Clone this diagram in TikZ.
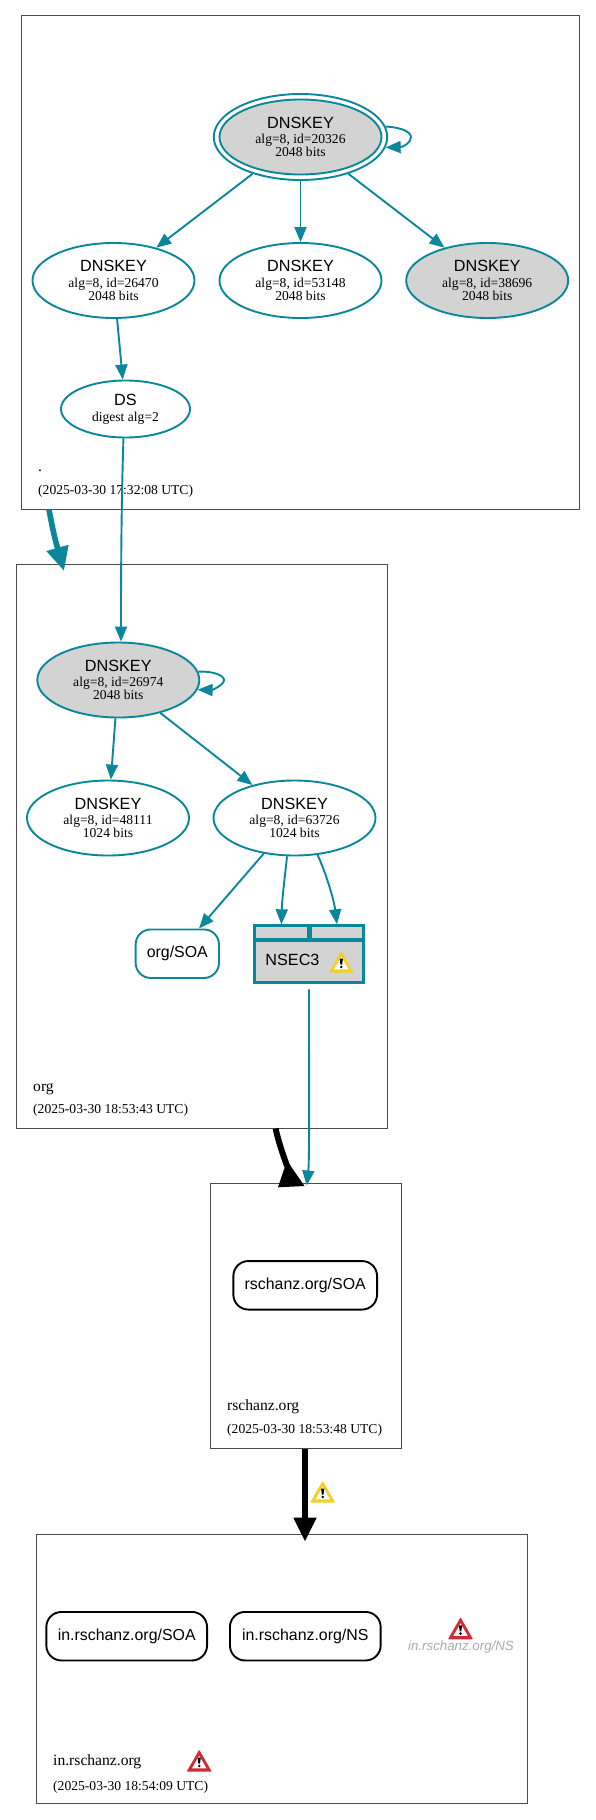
\documentclass[tikz,border=0pt]{standalone}
\usepackage{fontspec}
\setmainfont{Liberation Serif}
\setsansfont{Liberation Sans}
\usetikzlibrary{arrows.meta}
\usetikzlibrary{shapes.geometric}
\definecolor{teal}{RGB}{10,135,154}
\definecolor{keygrey}{RGB}{211,211,211}
\definecolor{warnyellow}{RGB}{243,208,40}
\definecolor{warnred}{RGB}{208,44,50}
\newcommand{\rrfont}{\sffamily\fontsize{15.9}{18}\selectfont}
\newcommand{\keyfont}{\sffamily\fontsize{16.2}{18}\selectfont}
\newcommand{\zonefont}{\fontsize{15.6}{18}\selectfont}
\newcommand{\stampfont}{\fontsize{13.6}{13}\selectfont}
\newcommand{\warnsign}[3]{
    \begin{scope}[shift={(#1,#2)}]
        \fill[#3, rounded corners=0.8pt] (-12.6,11) -- (0,-11) -- (12.6,11) -- cycle;
        \fill[white] (-7.2,7.6) -- (0,-5) -- (7.2,7.6) -- cycle;
        \fill[black] (-1.6,-3) -- (1.6,-3) -- (0.8,3) -- (-0.8,3) -- cycle;
        \fill[black] (0,5.3) circle (1.4);
    \end{scope}
}
\tikzset{
    zonebox/.style={draw=black!70, line width=0.9pt, rectangle, inner sep=0pt},
    keynode/.style={draw=teal, line width=1.9pt, ellipse, inner sep=0pt, align=center,
        font=\stampfont, minimum width=162pt, minimum height=75pt},
    rrnode/.style={draw=black, line width=1.9pt, rectangle, rounded corners=15pt, inner sep=0pt,
        font=\rrfont, minimum height=48.5pt},
    cell/.style={draw=teal, line width=2.6pt, fill=keygrey, rectangle, inner sep=0pt},
    keyedge/.style={teal, line width=1.9pt, -{Triangle[length=15pt,width=12pt]}},
    zoneedge/.style={line width=5.6pt, -{Triangle[length=24pt,width=21.5pt]}},
    zonename/.style={anchor=base west, inner sep=0pt, font=\zonefont},
    stamp/.style={anchor=base west, inner sep=0pt, font=\stampfont},
}
\begin{document}
\begin{tikzpicture}[x=1pt, y=-1pt]
    \useasboundingbox (0,0) rectangle (595,1820);
    \fill[white] (0,0) rectangle (595,1820);

    \node[zonebox, minimum width=558pt, minimum height=493.5pt] (zoneroot) at (300,262.5) {};
    \node[zonebox, minimum width=371pt, minimum height=564pt] (zoneorg) at (201.5,846) {};
    \node[zonebox, minimum width=191.4pt, minimum height=265.4pt] (zonerschanz) at (306,1316) {};
    \node[zonebox, minimum width=491pt, minimum height=269.4pt] (zonein) at (281.5,1669) {};

    \node[zonename] (rootname) at (38,471.7) {.};
    \node[stamp] (rootstamp) at (38,494.5) {(2025-03-30 17:32:08 UTC)};
    \node[zonename] (orgname) at (33,1091) {org};
    \node[stamp] (orgstamp) at (33,1113.8) {(2025-03-30 18:53:43 UTC)};
    \node[zonename] (rschanzname) at (227,1410.7) {rschanz.org};
    \node[stamp] (rschanzstamp) at (227,1433.8) {(2025-03-30 18:53:48 UTC)};
    \node[zonename] (inname) at (53,1765) {in.rschanz.org};
    \node[stamp] (instamp) at (53,1790) {(2025-03-30 18:54:09 UTC)};

    \node[keynode, minimum width=173.4pt, minimum height=86pt] (k20326) at (300.5,137) {};
    \foreach \id/\x/\y/\bits/\shade in {20326/300.5/137/2048/keygrey, 26470/113.5/280.5/2048/white,
        53148/300.5/280.5/2048/white, 38696/487.2/280.5/2048/keygrey, 26974/118.3/680/2048/keygrey,
        48111/108/818/1024/white, 63726/294.5/818/1024/white} {
        \node[keynode, fill=\shade] (key\id) at (\x,\y) {{\keyfont DNSKEY}\\[2.7pt]alg=8, id=\id\\\bits{} bits};
    }
    \node[keynode, minimum width=129pt, minimum height=57pt] (ds) at (125.5,409) {{\keyfont DS}\\[2.7pt]digest alg=2};

    \node[rrnode, draw=teal, minimum width=83.3pt] (orgsoa) at (177.3,953.7) {org/SOA};
    \node[rrnode, minimum width=143.7pt] (rschanzsoa) at (305.2,1285.3) {rschanz.org/SOA};
    \node[rrnode, minimum width=160.7pt] (insoa) at (126.7,1636.2) {in.rschanz.org/SOA};
    \node[rrnode, minimum width=150.7pt] (inns) at (305.3,1636.2) {in.rschanz.org/NS};
    \node[inner sep=0pt, text=black!33, font=\sffamily\itshape\fontsize{13.3}{15}\selectfont] (nsgone) at (461,1646.7) {in.rschanz.org/NS};

    \node[cell, minimum width=53.6pt, minimum height=13.2pt] (nsecleft) at (281.4,932.2) {};
    \node[cell, minimum width=53.5pt, minimum height=13.2pt] (nsecright) at (336.95,932.2) {};
    \node[cell, minimum width=109.1pt, minimum height=42.3pt] (nsecmain) at (309.15,961.5) {};
    \node[inner sep=0pt, font=\keyfont] (nsectext) at (292.5,960) {NSEC3};
    \warnsign{341.3}{961.7}{warnyellow}

    \draw[keyedge] (k20326) -- (key26470);
    \draw[keyedge] (k20326) -- (key53148);
    \draw[keyedge] (k20326) -- (key38696);
    \draw[keyedge] (k20326.7) .. controls (398,127) and (411,131) .. (411,137) .. controls (411,143) and (403,147) .. (k20326.-7);
    \draw[keyedge] (key26470) -- (ds);
    \draw[keyedge] (ds.-94) .. controls (121.5,500) and (121,560) .. (key26974.86);
    \draw[keyedge] (key26974.6) .. controls (212,671) and (224,675) .. (224,680) .. controls (224,685) and (212,690) .. (key26974.-7);
    \draw[keyedge] (key26974) -- (key48111);
    \draw[keyedge] (key26974) -- (key63726);
    \draw[keyedge] (key63726) -- (orgsoa);
    \draw[keyedge] (key63726.-101) .. controls (285,875) and (282,900) .. (nsecleft.north);
    \draw[keyedge] (key63726.-58) .. controls (326,873) and (334,900) .. (nsecright.north);

    \coordinate (nsecout) at (309,989.3);
    \coordinate (rschanzin) at (306.7,1185.5);
    \draw[keyedge] (nsecout) .. controls (309,1100) and (309.5,1160) .. (rschanzin);

    \coordinate (rootout) at (49,509.5);
    \coordinate (orgin) at (64,571);
    \draw[zoneedge, teal] (rootout) .. controls (51,520) and (53,532) .. (orgin);

    \coordinate (orgout) at (275.6,1128.5);
    \coordinate (rschanzneck) at (287.5,1167);
    \draw[line width=6pt] (orgout) .. controls (278,1140) and (283,1155) .. (rschanzneck);
    \fill (284.5,1168) -- (290,1165) -- (304.5,1186) -- (278,1187.3) -- cycle;

    \coordinate (rschanzout) at (305,1449);
    \coordinate (inin) at (305,1541.7);
    \draw[zoneedge] (rschanzout) -- (inin);
    \warnsign{322.7}{1491.7}{warnyellow}

    \warnsign{460.5}{1628.3}{warnred}
    \warnsign{199.2}{1760.7}{warnred}
\end{tikzpicture}
\end{document}
